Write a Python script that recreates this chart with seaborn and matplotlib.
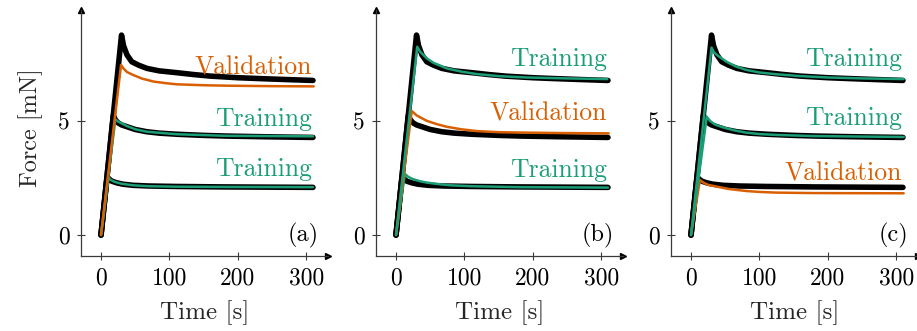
import matplotlib
matplotlib.use("Agg")
import matplotlib.pyplot as plt
import seaborn as sns
import pandas as pd

# measured force curves (same experiments in every panel)
exp_high_t = [0, 30, 33, 38, 45, 55, 67, 85, 111, 135, 160, 200, 233, 270, 310]
exp_high_f = [0, 8.77, 8.3, 7.9, 7.6, 7.45, 7.31, 7.2, 7.12, 7.04, 6.97, 6.9, 6.86, 6.82, 6.78]
exp_mid_t = [0, 18, 21, 25, 30, 38, 50, 67, 85, 111, 150, 184, 240, 310]
exp_mid_f = [0, 5.25, 5.05, 4.92, 4.83, 4.75, 4.63, 4.53, 4.47, 4.42, 4.37, 4.34, 4.31, 4.28]
exp_low_t = [0, 9, 12, 16, 23, 32, 47, 70, 110, 180, 310]
exp_low_f = [0, 2.55, 2.45, 2.36, 2.29, 2.23, 2.18, 2.15, 2.13, 2.11, 2.09]

# model curves, panel (a)
a_low_t = [0, 11, 14, 20, 30, 47, 70, 110, 180, 310]
a_low_f = [0, 2.52, 2.42, 2.33, 2.25, 2.18, 2.14, 2.12, 2.11, 2.10]
a_mid_t = [0, 21, 25, 30, 38, 50, 67, 111, 184, 310]
a_mid_f = [0, 5.07, 4.98, 4.9, 4.78, 4.64, 4.53, 4.42, 4.35, 4.33]
a_high_t = [0, 29.3, 33, 38, 47, 60, 77, 95, 111, 150, 184, 250, 311]
a_high_f = [0, 7.46, 7.3, 7.15, 7.02, 6.86, 6.73, 6.66, 6.61, 6.57, 6.55, 6.53, 6.52]

# model curves, panel (b)
b_low_t = [0, 13, 18, 25, 35, 45, 60, 80, 110, 180, 310]
b_low_f = [0, 2.68, 2.55, 2.45, 2.36, 2.3, 2.24, 2.18, 2.14, 2.1, 2.08]
b_mid_t = [0, 23, 30, 38, 45, 60, 74, 95, 118, 150, 191, 250, 311]
b_mid_f = [0, 5.44, 5.25, 5.12, 5.01, 4.86, 4.75, 4.64, 4.56, 4.51, 4.49, 4.47, 4.46]
b_high_t = [0, 31, 35, 40, 45, 55, 74, 95, 118, 150, 191, 250, 309]
b_high_f = [0, 8.26, 8.05, 7.9, 7.75, 7.55, 7.31, 7.17, 7.06, 6.97, 6.91, 6.87, 6.84]

# model curves, panel (c)
c_low_t = [0, 13, 18, 25, 38, 55, 81, 100, 125, 180, 311]
c_low_f = [0, 2.41, 2.3, 2.2, 2.12, 2.02, 1.93, 1.89, 1.86, 1.84, 1.83]
c_mid_t = [0, 23, 28, 35, 45, 52, 65, 81, 100, 125, 180, 311]
c_mid_f = [0, 5.19, 5.0, 4.85, 4.74, 4.68, 4.58, 4.49, 4.43, 4.39, 4.34, 4.30]
c_high_t = [0, 30, 34, 40, 52, 65, 81, 100, 125, 160, 200, 250, 311]
c_high_f = [0, 8.22, 8.0, 7.85, 7.6, 7.4, 7.24, 7.13, 7.05, 6.97, 6.91, 6.87, 6.84]

panel_tags = ["(a)", "(b)", "(c)"]
# which curve (low, mid, high) is validation in each panel
validation_idx = [2, 1, 0]
x_ticks = [0, 100, 200, 300]
y_ticks = [0, 5]

GREEN = "#1b9e77"
ORANGE = "#d95f02"
AXC = "#3a3a3a"

sns.set_theme(style="white")
plt.rcParams["font.family"] = ["cmr10", "DejaVu Serif"]
plt.rcParams["axes.formatter.use_mathtext"] = True
plt.rcParams["mathtext.fontset"] = "cm"

experiments = [(exp_low_t, exp_low_f), (exp_mid_t, exp_mid_f), (exp_high_t, exp_high_f)]
models = [
    [(a_low_t, a_low_f), (a_mid_t, a_mid_f), (a_high_t, a_high_f)],
    [(b_low_t, b_low_f), (b_mid_t, b_mid_f), (b_high_t, b_high_f)],
    [(c_low_t, c_low_f), (c_mid_t, c_mid_f), (c_high_t, c_high_f)],
]
# label baselines per panel (low, mid, high)
label_y = [[2.59, 4.78, 7.06], [2.56, 5.01, 7.41], [2.41, 4.82, 7.41]]

fig = plt.figure(figsize=(9.17, 3.31), dpi=100)
lefts = [0.0883, 0.410, 0.7317]

for p in range(3):
    ax = fig.add_axes([lefts[p], 0.2266, 0.2694, 0.7432])
    ax.set_facecolor("none")

    for t, f in experiments:
        df = pd.DataFrame({"t": t, "f": f})
        sns.lineplot(data=df, x="t", y="f", ax=ax, color="black", lw=4.0,
                     solid_capstyle="round", solid_joinstyle="round", sort=False)

    for i, (t, f) in enumerate(models[p]):
        col = ORANGE if i == validation_idx[p] else GREEN
        df = pd.DataFrame({"t": t, "f": f})
        sns.lineplot(data=df, x="t", y="f", ax=ax, color=col, lw=1.8, sort=False)
        txt = "Validation" if i == validation_idx[p] else "Training"
        ax.text(309, label_y[p][i], txt, color=col, fontsize=18.5,
                ha="right", va="baseline")

    ax.text(0.962, 0.085, panel_tags[p], transform=ax.transAxes, fontsize=17.5,
            ha="right", va="center", color="black")

    ax.set_xlim(-29.3, 332)
    ax.set_ylim(-0.92, 9.87)
    ax.set_xticks(x_ticks)
    ax.set_yticks(y_ticks)
    ax.set_xticklabels([str(v) for v in x_ticks])
    ax.set_yticklabels([str(v) for v in y_ticks])
    ax.set_xlabel("Time [s]", fontsize=18, labelpad=8)
    ax.set_ylabel("")
    ax.tick_params(axis="both", direction="inout", length=6, width=0.8,
                   colors=AXC, labelcolor="black", labelsize=17, pad=5)
    ax.tick_params(bottom=True, left=True)
    for s in ["top", "right"]:
        ax.spines[s].set_visible(False)
    for s in ["left", "bottom"]:
        ax.spines[s].set_color(AXC)
        ax.spines[s].set_linewidth(0.9)
    # arrow heads at the end of each axis line
    ax.plot(1, 0, ">", color="black", ms=4, transform=ax.transAxes, clip_on=False)
    ax.plot(0, 1, "^", color="black", ms=4, transform=ax.transAxes, clip_on=False)

fig.text(0.033, 0.615, "Force [mN]", rotation=90, fontsize=17.5,
         ha="center", va="center")

fig.savefig("out.png", dpi=100)
